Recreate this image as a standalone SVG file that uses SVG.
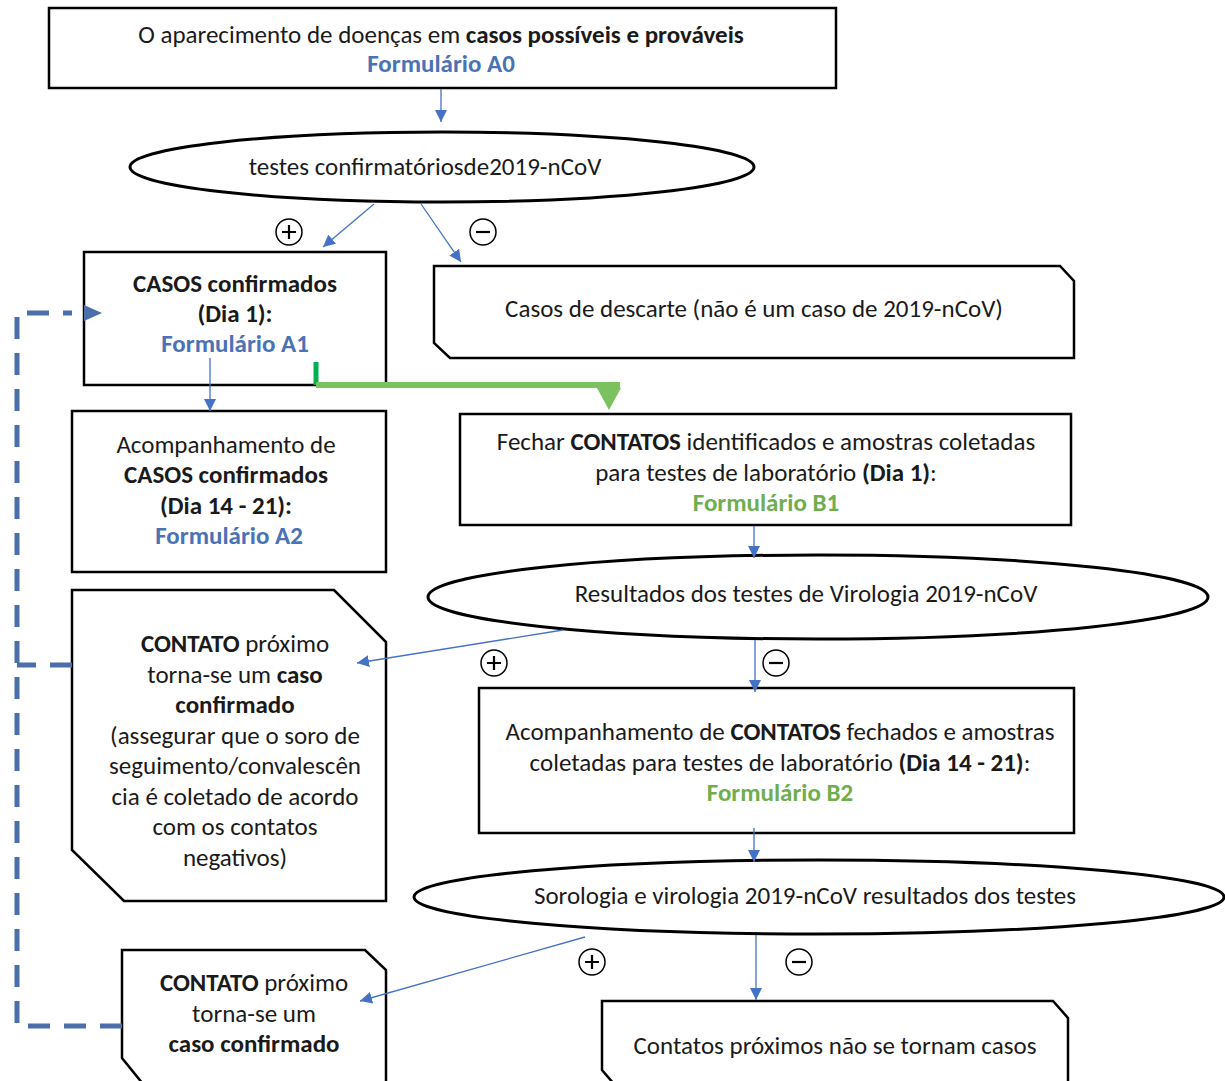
<svg xmlns="http://www.w3.org/2000/svg" width="1225" height="1081" viewBox="0 0 1225 1081">
<defs>
<style>
.box{fill:#fff;stroke:#000;stroke-width:2.5}
.ell{fill:#fff;stroke:#000;stroke-width:3}
text{font-family:Carlito,Lato,"Open Sans",sans-serif;font-size:25px;fill:#1a1a1a;text-anchor:middle}
.b{font-weight:bold}
.blue{fill:#4a72b5;font-weight:bold}
.green{fill:#6fae4e;font-weight:bold}
.con{stroke:#4472c4;stroke-width:1.3;fill:none}
.dash{stroke:#4a6fab;stroke-width:5;fill:none;stroke-dasharray:22 14}
.sign{fill:#fff;stroke:#000;stroke-width:1.5}
.signtxt{stroke:#000;stroke-width:2.2}
</style>
<marker id="ah" viewBox="0 0 10 10" refX="10" refY="5" markerWidth="12" markerHeight="12" markerUnits="userSpaceOnUse" orient="auto">
<path d="M0,0 L10,5 L0,10 z" fill="#4472c4"/>
</marker>
</defs>

<g id="node-a0">
<rect class="box" x="49" y="8" width="787" height="80"/>
<text x="441" y="43">O aparecimento de doenças em <tspan class="b">casos possíveis e prováveis</tspan></text>
<text class="blue" x="441" y="72">Formulário A0</text>
</g>

<g id="node-testes">
<ellipse class="ell" cx="442" cy="167" rx="312" ry="35"/>
<text x="425" y="175">testes confirmatóriosde2019-nCoV</text>
</g>

<g id="node-a1">
<rect class="box" x="84" y="252" width="302" height="133"/>
<text class="b" x="235" y="292">CASOS confirmados</text>
<text class="b" x="235" y="322">(Dia 1):</text>
<text class="blue" x="235" y="352">Formulário A1</text>
</g>

<g id="node-descarte">
<path class="box" d="M434,266 H1060 L1074,281 V358 H450 L434,343 z"/>
<text x="754" y="317">Casos de descarte (não é um caso de 2019-nCoV)</text>
</g>

<g id="node-a2">
<rect class="box" x="72" y="411" width="314" height="161"/>
<text x="226" y="453">Acompanhamento de</text>
<text class="b" x="226" y="483">CASOS confirmados</text>
<text class="b" x="226" y="514">(Dia 14 - 21):</text>
<text class="blue" x="229" y="544">Formulário A2</text>
</g>

<g id="node-b1">
<rect class="box" x="460" y="414" width="611" height="111"/>
<text x="766" y="450">Fechar <tspan class="b">CONTATOS</tspan> identificados e amostras coletadas</text>
<text x="766" y="481">para testes de laboratório <tspan class="b">(Dia 1)</tspan>:</text>
<text class="green" x="766" y="511">Formulário B1</text>
</g>

<g id="node-virologia">
<ellipse class="ell" cx="818" cy="597" rx="390" ry="42"/>
<text x="806" y="602">Resultados dos testes de Virologia 2019-nCoV</text>
</g>

<g id="node-contato1">
<path class="box" d="M72,590 H334 L386,642 V901 H124 L72,850 z"/>
<text x="235" y="652"><tspan class="b">CONTATO</tspan> próximo</text>
<text x="235" y="683">torna-se um <tspan class="b">caso</tspan></text>
<text class="b" x="235" y="713">confirmado</text>
<text x="235" y="744">(assegurar que o soro de</text>
<text x="235" y="774">seguimento/convalescên</text>
<text x="235" y="805">cia é coletado de acordo</text>
<text x="235" y="835">com os contatos</text>
<text x="235" y="866">negativos)</text>
</g>

<g id="node-b2">
<rect class="box" x="479" y="688" width="595" height="145"/>
<text x="780" y="740">Acompanhamento de <tspan class="b">CONTATOS</tspan> fechados e amostras</text>
<text x="780" y="771">coletadas para testes de laboratório <tspan class="b">(Dia 14 - 21)</tspan>:</text>
<text class="green" x="780" y="801">Formulário B2</text>
</g>

<g id="node-sorologia">
<ellipse class="ell" cx="819" cy="897" rx="405" ry="37"/>
<text x="805" y="904">Sorologia e virologia 2019-nCoV resultados dos testes</text>
</g>

<g id="node-contato2">
<path class="box" d="M122,950 H365 L386,970 V1084 H143 L122,1058 z"/>
<text x="254" y="991"><tspan class="b">CONTATO</tspan> próximo</text>
<text x="254" y="1022">torna-se um</text>
<text class="b" x="254" y="1052">caso confirmado</text>
</g>

<g id="node-naocasos">
<path class="box" d="M602,1001 H1053 L1068,1018 V1084 H614 L602,1070 z"/>
<text x="835" y="1054">Contatos próximos não se tornam casos</text>
</g>

<g id="signs">
<circle class="sign" cx="289" cy="232" r="13"/><path class="signtxt" d="M282,232 H296 M289,225 V239"/>
<circle class="sign" cx="483" cy="232" r="13"/><path class="signtxt" d="M476,232 H490"/>
<circle class="sign" cx="494" cy="663" r="13"/><path class="signtxt" d="M487,663 H501 M494,656 V670"/>
<circle class="sign" cx="776" cy="663" r="13"/><path class="signtxt" d="M769,663 H783"/>
<circle class="sign" cx="592" cy="962" r="13"/><path class="signtxt" d="M585,962 H599 M592,955 V969"/>
<circle class="sign" cx="799" cy="962" r="13"/><path class="signtxt" d="M792,962 H806"/>
</g>

<g id="connectors">
<line class="con" x1="441" y1="89" x2="441" y2="122" marker-end="url(#ah)"/>
<line class="con" x1="374" y1="204" x2="323" y2="247" marker-end="url(#ah)"/>
<line class="con" x1="421" y1="204" x2="461" y2="262" marker-end="url(#ah)"/>
<line class="con" x1="210" y1="358" x2="210" y2="411" marker-end="url(#ah)"/>
<line class="con" x1="754" y1="526" x2="754" y2="558" marker-end="url(#ah)"/>
<line class="con" x1="563" y1="630" x2="357" y2="663" marker-end="url(#ah)"/>
<line class="con" x1="755" y1="640" x2="755" y2="692" marker-end="url(#ah)"/>
<line class="con" x1="754" y1="828" x2="754" y2="862" marker-end="url(#ah)"/>
<line class="con" x1="585" y1="937" x2="360" y2="1001" marker-end="url(#ah)"/>
<line class="con" x1="756" y1="935" x2="756" y2="1000" marker-end="url(#ah)"/>
<line x1="316" y1="362" x2="316" y2="385" stroke="#00b050" stroke-width="5"/>
<line x1="316" y1="385" x2="620" y2="385" stroke="#7cc15f" stroke-width="6"/>
<path d="M597,388 L621,388 L609,410 z" fill="#7cc15f"/>
<path class="dash" d="M72,665 H17 M122,1026 H17 V313 H72"/>
<path d="M84,305 L102,313 L84,321 z" fill="#4a6fab"/>
</g>
</svg>
